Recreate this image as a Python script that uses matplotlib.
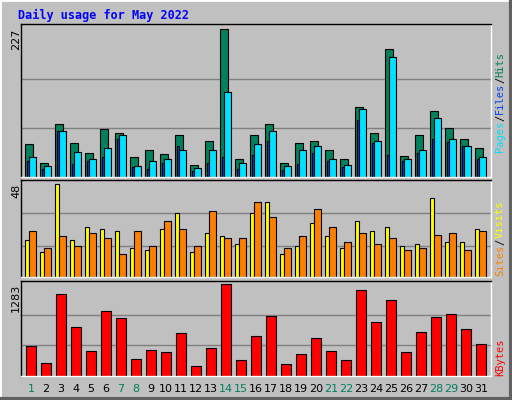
import matplotlib
matplotlib.use("Agg")
import matplotlib.pyplot as plt
from matplotlib.patches import Rectangle
import numpy as np

days = list(range(1, 32))
weekend = [1, 7, 8, 14, 15, 21, 22, 28, 29]
hits = [51,21,82,53,37,74,68,30,41,36,64,19,56,227,28,65,82,22,53,56,41,27,108,67,196,33,64,102,76,59,44]
files = [24,13,71,20,24,30,58,15,13,22,47,9,21,30,13,34,56,10,20,37,24,16,87,53,34,24,37,58,54,47,27]
pages = [30,17,71,39,28,44,65,17,24,27,41,14,41,131,22,51,70,17,42,47,27,19,104,56,185,27,41,91,58,47,30]
visits = [19,13,48,19,26,25,24,15,14,25,33,13,23,21,17,33,39,12,16,28,21,15,29,24,26,16,17,41,18,18,25]
sites = [24,15,21,16,23,20,12,24,16,29,25,16,34,20,20,39,31,15,21,35,26,18,23,17,20,14,15,22,23,14,24]
kbytes = [426,187,1143,679,356,904,806,244,370,342,595,145,398,1283,230,553,834,173,314,525,356,230,1199,749,1059,342,609,820,862,651,454]

W, H = 512, 400
fig = plt.figure(figsize=(W/100, H/100), dpi=100)
fig.patch.set_facecolor('#c0c0c0')
fig.add_artist(Rectangle((0, 0), 1, 1, transform=fig.transFigure, fill=False, edgecolor='#ffffff', lw=2))
fig.add_artist(plt.Line2D([0, 1], [0.002, 0.002], transform=fig.transFigure, color='#606060', lw=3))
fig.add_artist(plt.Line2D([0.998, 0.998], [0, 1], transform=fig.transFigure, color='#606060', lw=3))

mono = 'DejaVu Sans Mono'
fig.text(18/W, 1-15/H, 'Daily usage for May 2022', color='#0000ff', fontsize=8.5,
         fontweight='bold', family=mono, va='center')

x0, x1 = 20.7, 490.7
nslots = (x1 - x0) / 15
off = 4.3 / 15

def mkax(top, bot, ymax, grids):
    ax = fig.add_axes([x0/W, 1-bot/H, (x1-x0)/W, (bot-top)/H])
    ax.set_facecolor('#c0c0c0')
    ax.set_xlim(0, nslots)
    ax.set_ylim(0, ymax)
    for g in grids:
        ax.axhline(g, color='#808080', lw=1, zorder=0)
    ax.set_xticks([]); ax.set_yticks([])
    for s in ax.spines.values():
        s.set_color('black'); s.set_linewidth(1)
    ax.spines['right'].set_color('#ffffff')
    ax.spines['bottom'].set_color('#ffffff')
    return ax

def bars(ax, vals, start, width, color):
    xs = np.array(days) - 1 + off + start / 15
    ax.bar(xs, vals, width=width/15, align='edge', color=color, edgecolor='black', lw=0.8)

ax1 = mkax(24, 177, 227*152.7/147.4, [76, 151])
bars(ax1, hits, 0, 8, '#00805c')
bars(ax1, files, 2, 2, '#0040ff')
bars(ax1, pages, 4, 7.3, '#00e0ff')

ax2 = mkax(180, 277, 48*96.3/92, [16, 33])
bars(ax2, visits, 0, 4, '#ffff00')
bars(ax2, sites, 4, 7.3, '#ff8000')

ax3 = mkax(281, 376, 1283*94.7/91.4, [428, 855])
bars(ax3, kbytes, 1, 10.3, '#ff0000')

for top, txt in [(29, '227'), (184, '48'), (284, '1283')]:
    fig.text(16/W, 1-top/H, txt, rotation=90, fontsize=8, va='top', ha='center', family='DejaVu Sans')

FS = 7.5
ADV = 0.6 * FS * 100 / 72

def rlabel(ybottom, parts):
    y = ybottom
    for txt, col in parts:
        fig.text(500/W, 1-y/H, txt, rotation=90, color=col, fontsize=FS, family=mono,
                 ha='center', va='bottom', rotation_mode='anchor' if False else 'default')
        y -= len(txt) * ADV

rlabel(152, [('Pages', '#00e0ff'), ('/', '#000000'), ('Files', '#0040ff'), ('/', '#000000'), ('Hits', '#00805c')])
rlabel(276, [('Sites', '#ff8000'), ('/', '#000000'), ('Visits', '#ffff00')])
rlabel(376, [('KBytes', '#ff0000')])

for d in days:
    cx = x0 + 4.3 + 15*(d-1) + 6
    fig.text(cx/W, 1-389/H, str(d), ha='center', va='center', fontsize=8,
             color='#00805c' if d in weekend else 'black')

fig.savefig('out.png', dpi=100, facecolor=fig.get_facecolor())
